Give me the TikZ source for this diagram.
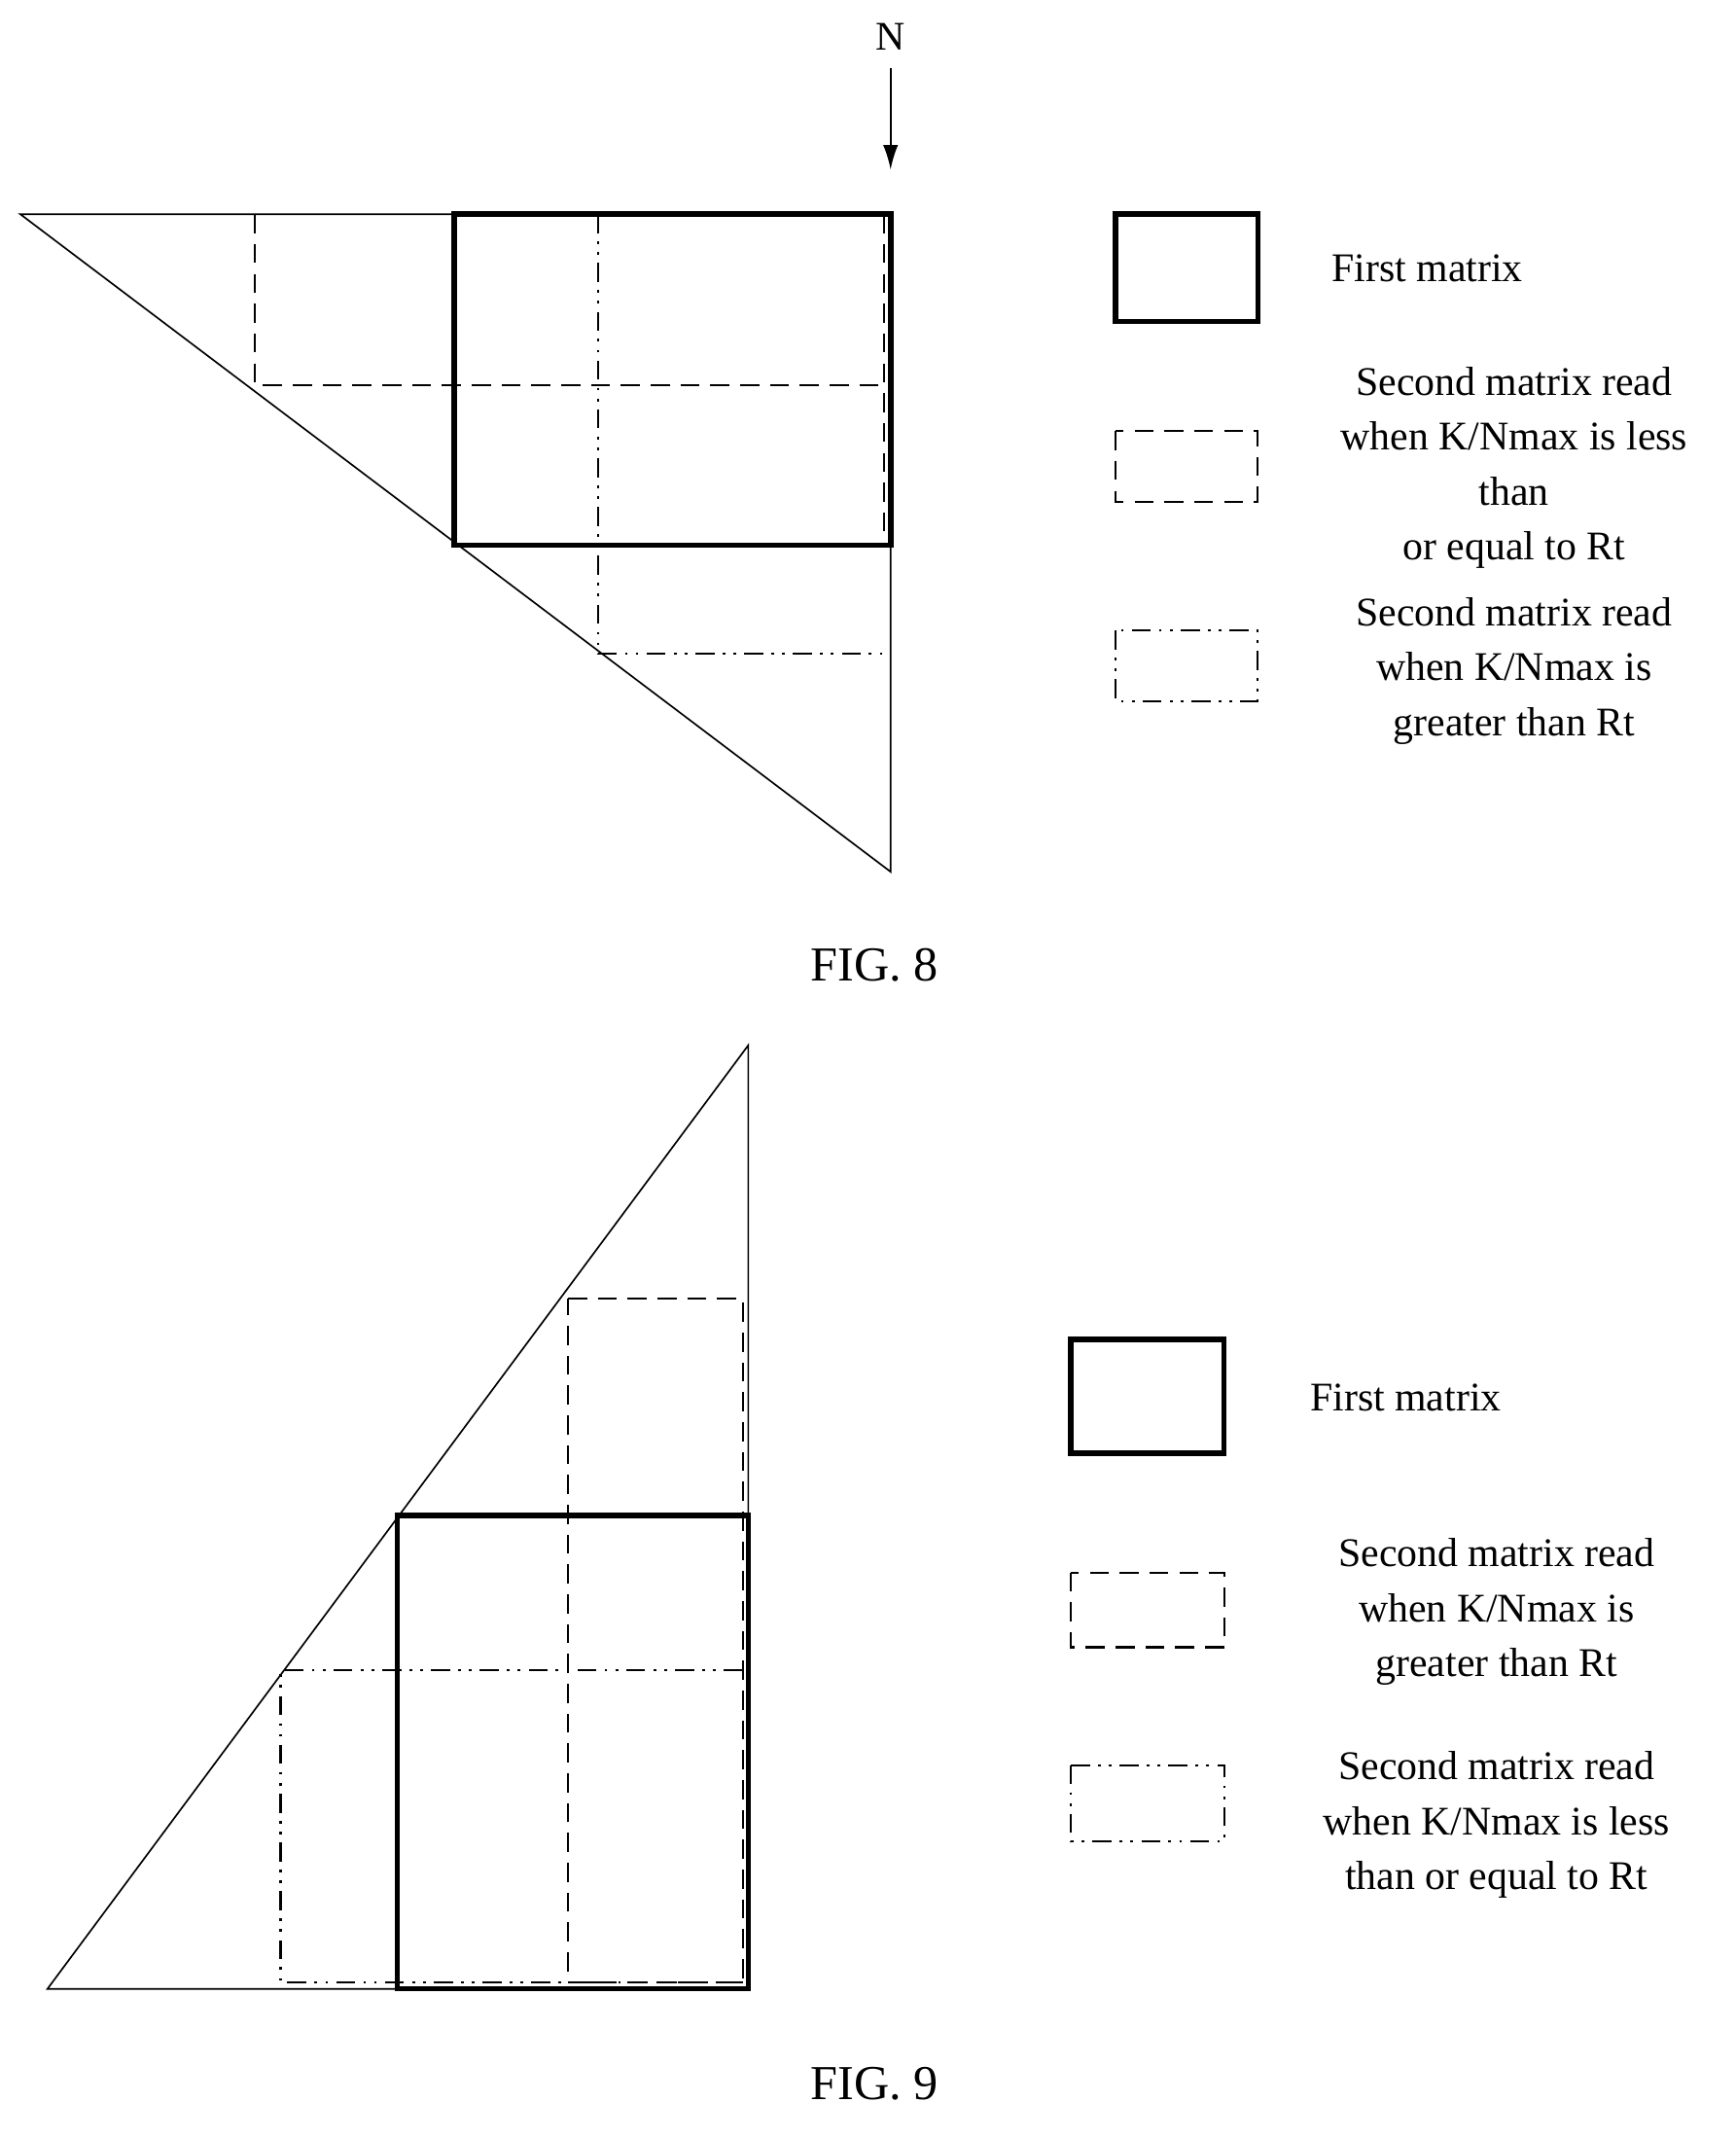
\documentclass[tikz,border=0pt]{standalone}
\usepackage{fontspec}
\setmainfont{Liberation Serif}
\usetikzlibrary{arrows.meta}
\begin{document}
\begin{tikzpicture}[x=1pt,y=-1pt,
 thin/.style={line width=1.2pt},
 thk/.style={line width=4pt},
 dsh/.style={line width=1.5pt,dash pattern=on 14pt off 8pt},
 dd/.style={line width=1.5pt,dash pattern=on 14pt off 6pt on 2pt off 6pt on 2pt off 6pt},
 txt/.style={font=\fontsize{30}{40.5}\selectfont,align=center},
 fig/.style={font=\fontsize{36}{40}\selectfont}]
\useasboundingbox (0,0) rectangle (1280,1577);
% FIG 8
\draw[thin] (15,158) -- (657,158) -- (657,643) -- cycle;
\draw[dsh] (188,158) -- (188,284) -- (652,284);
\draw[dsh] (652,158) -- (652,402);
\draw[dd] (441,158) -- (441,482) -- (652,482);
\draw[thk] (335,158) rectangle (657,402);
\node[txt] (N) at (657,27) {N};
\coordinate (Na) at (657,125);
\draw[thin,-{Latex[length=18pt,width=11pt]}] (657,50) -- (Na);
\draw[thk] (823,158) rectangle (928,237);
\node[txt] at (1053,198) {First matrix};
\draw[dsh] (823,318) rectangle (928,370);
\node[txt] at (1117,345) {Second matrix read\\when K/Nmax is less\\than\\or equal to Rt};
\draw[dd] (823,465) rectangle (928,517);
\node[txt] at (1117,495) {Second matrix read\\when K/Nmax is\\greater than Rt};
\node[fig] at (645,712) {FIG. 8};
% FIG 9
\draw[thin] (35,1467) -- (552,1467) -- (552,771) -- cycle;
\draw[dsh] (419,958) -- (548,958) -- (548,1462) -- (419,1462) -- cycle;
\draw[dd] (548,1232) -- (207,1232) -- (207,1462) -- (548,1462);
\draw[thk] (293,1118) rectangle (552,1467);
\draw[thk] (790,988) rectangle (903,1072);
\node[txt] at (1037,1031) {First matrix};
\draw[dsh] (790,1160) rectangle (903,1215);
\node[txt] at (1104,1189) {Second matrix read\\when K/Nmax is\\greater than Rt};
\draw[dd] (790,1302) rectangle (903,1358);
\node[txt] at (1104,1346) {Second matrix read\\when K/Nmax is less\\than or equal to Rt};
\node[fig] at (645,1537) {FIG. 9};
\end{tikzpicture}
\end{document}
